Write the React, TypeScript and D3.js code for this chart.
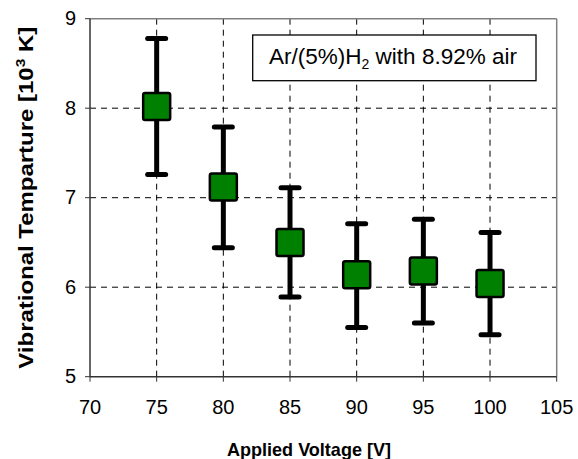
import React from "react";
import * as d3 from "d3";

const voltages = [75, 80, 85, 90, 95, 100];
const temps = [8.02, 7.12, 6.5, 6.14, 6.18, 6.04];
const upper = [8.78, 7.79, 7.11, 6.71, 6.76, 6.61];
const lower = [7.26, 6.44, 5.89, 5.55, 5.6, 5.47];
const xTicks = [70, 75, 80, 85, 90, 95, 100, 105];
const yTicks = [5, 6, 7, 8, 9];

export default function App() {
  const W = 578, H = 459;
  const left = 90, right = 556.7, top = 18.7, bottom = 376.7;
  const x = d3.scaleLinear().domain([70, 105]).range([left, right]);
  const y = d3.scaleLinear().domain([5, 9]).range([bottom, top]);
  const font = "Arial, 'Liberation Sans', sans-serif";
  const sq = 27;
  const cap = 18;
  return (
    <svg width={W} height={H} style={{ position: "absolute", left: 0, top: 0 }} fontFamily={font}>
      <rect width={W} height={H} fill="white" />
      {xTicks.slice(1, -1).map((t) => (
        <line key={"gx" + t} x1={x(t)} x2={x(t)} y1={top} y2={bottom} stroke="#000" strokeWidth={1} strokeDasharray="6,5" />
      ))}
      {yTicks.slice(1, -1).map((t) => (
        <line key={"gy" + t} x1={left} x2={right} y1={y(t)} y2={y(t)} stroke="#000" strokeWidth={1} strokeDasharray="6,5" />
      ))}
      <line x1={left} x2={right} y1={top} y2={top} stroke="#808080" strokeWidth={1.5} />
      <line x1={right} x2={right} y1={top} y2={bottom} stroke="#808080" strokeWidth={1.5} />
      <line x1={left} x2={left} y1={top} y2={bottom} stroke="#333" strokeWidth={1.5} />
      <line x1={left} x2={right} y1={bottom} y2={bottom} stroke="#333" strokeWidth={1.5} />
      {yTicks.map((t) => (
        <g key={"yt" + t}>
          <line x1={left - 5} x2={left} y1={y(t)} y2={y(t)} stroke="#333" strokeWidth={1} />
          <text x={left - 14} y={y(t) + 6.5} fontSize={20} textAnchor="end">{t}</text>
        </g>
      ))}
      {xTicks.map((t) => (
        <g key={"xt" + t}>
          <line x1={x(t)} x2={x(t)} y1={bottom} y2={bottom + 5} stroke="#333" strokeWidth={1} />
          <text x={x(t)} y={bottom + 37.5} fontSize={20} textAnchor="middle">{t}</text>
        </g>
      ))}
      {voltages.map((v, i) => (
        <g key={"eb" + v}>
          <line x1={x(v)} x2={x(v)} y1={y(upper[i])} y2={y(lower[i])} stroke="#000" strokeWidth={5} />
          <line x1={x(v) - cap / 2} x2={x(v) + cap / 2} y1={y(upper[i])} y2={y(upper[i])} stroke="#000" strokeWidth={5} strokeLinecap="round" />
          <line x1={x(v) - cap / 2} x2={x(v) + cap / 2} y1={y(lower[i])} y2={y(lower[i])} stroke="#000" strokeWidth={5} strokeLinecap="round" />
        </g>
      ))}
      {voltages.map((v, i) => (
        <rect key={"m" + v} x={x(v) - sq / 2} y={y(temps[i]) - sq / 2} width={sq} height={sq} fill="#008000" stroke="#000" strokeWidth={2.5} rx={2} />
      ))}
      <rect x={252.7} y={35} width={283.3} height={45.7} fill="white" stroke="#000" strokeWidth={1.3} />
      <text x={269} y={64} fontSize={22.5} textLength={248} lengthAdjust="spacingAndGlyphs">
        Ar/(5%)H<tspan fontSize={14} dy={5}>2</tspan><tspan dy={-5}> with 8.92% air</tspan>
      </text>
      <text x={309} y={456} fontSize={19} fontWeight="bold" textAnchor="middle" textLength={164} lengthAdjust="spacingAndGlyphs">Applied Voltage [V]</text>
      <text transform={`translate(33,${(top + bottom) / 2}) rotate(-90)`} fontSize={20} fontWeight="bold" textAnchor="middle" textLength={342} lengthAdjust="spacingAndGlyphs">
        Vibrational Temparture [10<tspan fontSize={13} dy={-8}>3</tspan><tspan dy={8}> K]</tspan>
      </text>
    </svg>
  );
}
